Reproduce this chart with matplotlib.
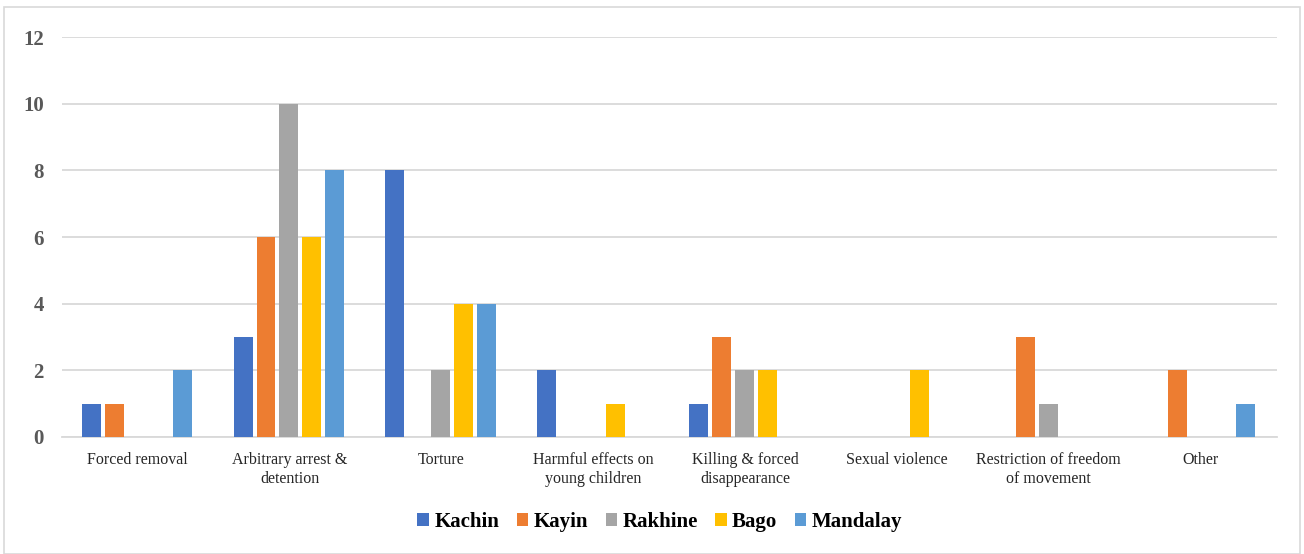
import numpy as np
import matplotlib.pyplot as plt
from matplotlib.patches import Rectangle

plt.rcParams['font.family'] = ['Liberation Serif', 'DejaVu Serif']

categories = ['Forced removal', 'Arbitrary arrest &\ndetention', 'Torture',
              'Harmful effects on\nyoung children', 'Killing & forced\ndisappearance',
              'Sexual violence', 'Restriction of freedom\nof movement', 'Other']
regions = ['Kachin', 'Kayin', 'Rakhine', 'Bago', 'Mandalay']
kachin = [1, 3, 8, 2, 1, 0, 0, 0]
kayin = [1, 6, 0, 0, 3, 0, 3, 2]
rakhine = [0, 10, 2, 0, 2, 0, 1, 0]
bago = [0, 6, 4, 1, 2, 2, 0, 0]
mandalay = [2, 8, 4, 0, 0, 0, 0, 1]
colors = ['#4472C4', '#ED7D31', '#A5A5A5', '#FFC000', '#5B9BD5']

series = [kachin, kayin, rakhine, bago, mandalay]

fig = plt.figure(figsize=(13.04, 5.54), dpi=100)
fig.patches.append(Rectangle((0.003, 0.0), 0.994, 0.987, transform=fig.transFigure,
                             fill=False, edgecolor='#D9D9D9', linewidth=1.2))
ax = fig.add_axes([0.0475, 0.2112, 0.9315, 0.7218])

x = np.arange(len(categories))
step = 0.151
width = 0.125
for i, (vals, name) in enumerate(zip(series, regions)):
    ax.bar(x + (i - 2) * step - 0.005, vals, width, color=colors[i], label=name, zorder=3)

ax.set_xlim(-0.5, len(categories) - 0.5)
ax.set_ylim(0, 12)
ax.set_yticks(range(0, 13, 2))
ax.yaxis.grid(True, color='#D9D9D9', linewidth=1.3, zorder=0)
for s in ['top', 'right', 'left']:
    ax.spines[s].set_visible(False)
ax.spines['bottom'].set_color('#D9D9D9')
ax.spines['bottom'].set_linewidth(1.3)
ax.tick_params(length=0)
ax.set_xticks(x)
ax.set_xticklabels(categories, fontsize=11.5, color='#262626', linespacing=1.2)
ax.tick_params(axis='x', pad=11)
ax.tick_params(axis='y', pad=13)
for lbl in ax.get_yticklabels():
    lbl.set_fontsize(15)
    lbl.set_fontweight('bold')
    lbl.set_color('#595959')

leg = fig.legend(loc='center', bbox_to_anchor=(0.506, 0.058), ncol=5, frameon=False,
                 handlelength=0.55, handleheight=0.55, handletextpad=0.25, columnspacing=0.85,
                 prop={'size': 15, 'weight': 'bold'})

plt.savefig('out.png', dpi=100)
